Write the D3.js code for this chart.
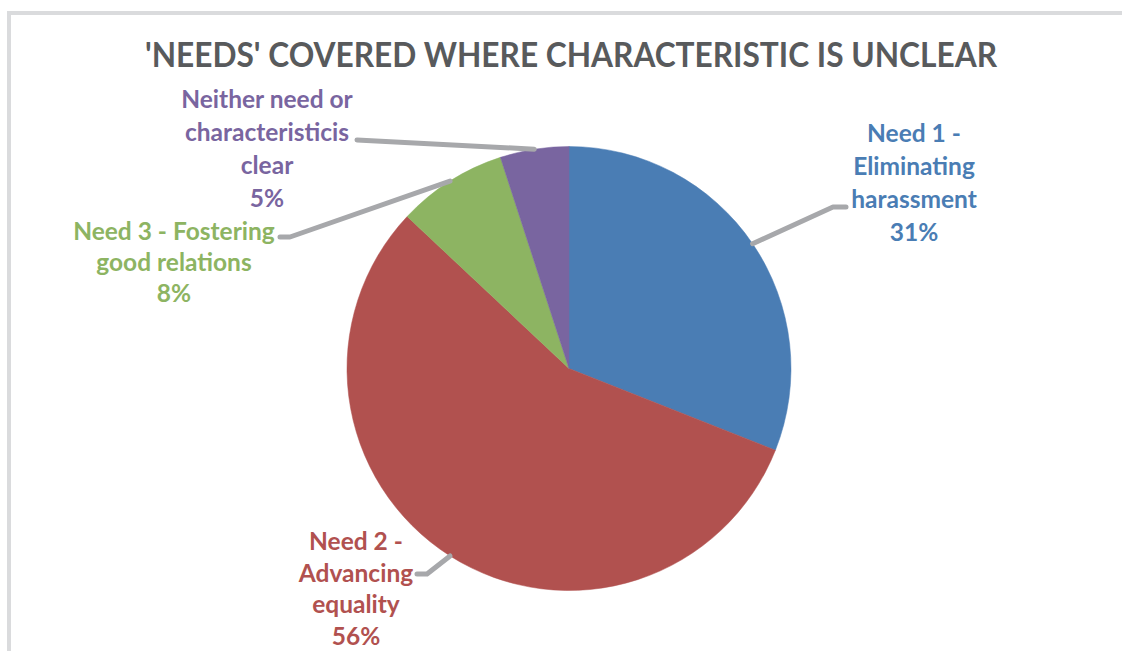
<!DOCTYPE html>
<html>
<head>
<meta charset="utf-8">
<script src="https://cdn.jsdelivr.net/npm/d3@7"></script>
<style>
  html, body { margin: 0; padding: 0; background: #ffffff; }
  svg { display: block; }
</style>
</head>
<body>
<svg id="chart" width="1122" height="651"></svg>
<script>
// Share of each equality-duty "need" where the protected characteristic is unclear
const categories = [
  "Need 1 - Eliminating harassment",
  "Need 2 - Advancing equality",
  "Need 3 - Fostering good relations",
  "Neither need or characteristicis clear"
];
const values = [31, 56, 8, 5];
const labelLines = [
  ["Need 1 -", "Eliminating", "harassment"],
  ["Need 2 -", "Advancing", "equality"],
  ["Need 3 - Fostering", "good relations"],
  ["Neither need or", "characteristicis", "clear"]
];
const colors = ["#4a7db4", "#b1514f", "#8db462", "#7965a0"];

// Label placement around the pie (pixels): text centre, first baseline, line step,
// and the leader line's elbow / end points.
const labelLayout = [
  { x: 914, y: 142, step: 33, elbow: [833, 207], end: [846, 207] },
  { x: 356, y: 550, step: 31.7, elbow: [427, 574], end: [417, 574] },
  { x: 174, y: 240, step: 31, elbow: [290, 237], end: [280, 237] },
  { x: 267, y: 108, step: 33, elbow: [357, 140], end: [357, 140] }
];

const svg = d3.select("#chart");
const W = 1122, H = 651;
const cx = 569, cy = 368.5, R = 222;

// Chart-area frame (top and left edges visible)
svg.append("path")
  .attr("d", `M9,${H} L9,13 L${W},13`)
  .attr("fill", "none")
  .attr("stroke", "#dadbdd")
  .attr("stroke-width", 4);

// Title
svg.append("text")
  .attr("x", 571)
  .attr("y", 67)
  .attr("text-anchor", "middle")
  .attr("font-family", "Lato, 'Open Sans', sans-serif")
  .attr("font-weight", "bold")
  .attr("font-size", 35)
  .attr("fill", "#585a5c")
  .attr("textLength", 852)
  .attr("lengthAdjust", "spacingAndGlyphs")
  .text("'NEEDS' COVERED WHERE CHARACTERISTIC IS UNCLEAR");

const data = categories.map((c, i) => ({ name: c, value: values[i], i }));

const pie = d3.pie().sort(null).value(d => d.value).startAngle(0).endAngle(2 * Math.PI);
const arcs = pie(data);
const arc = d3.arc().innerRadius(0).outerRadius(R);
const rim = d3.arc().innerRadius(R).outerRadius(R);

const g = svg.append("g").attr("transform", `translate(${cx},${cy})`);

g.selectAll("path.slice")
  .data(arcs)
  .enter().append("path")
  .attr("class", "slice")
  .attr("d", arc)
  .attr("fill", d => colors[d.data.i])
  .attr("stroke", d => colors[d.data.i])
  .attr("stroke-width", 0.5);

// Leader lines from the slice rim to its label
const line = d3.line();
svg.selectAll("path.leader")
  .data(arcs)
  .enter().append("path")
  .attr("class", "leader")
  .attr("d", d => {
    const c = rim.centroid(d);
    const L = labelLayout[d.data.i];
    return line([[cx + c[0], cy + c[1]], L.elbow, L.end]);
  })
  .attr("fill", "none")
  .attr("stroke", "#a7a8ab")
  .attr("stroke-width", 5)
  .attr("stroke-linecap", "round")
  .attr("stroke-linejoin", "round");

// Data labels: category name lines followed by the percentage
const total = d3.sum(values);
arcs.forEach(d => {
  const i = d.data.i;
  const L = labelLayout[i];
  const lines = labelLines[i].concat([d3.format(".0%")(d.data.value / total)]);
  const t = svg.append("text")
    .attr("text-anchor", "middle")
    .attr("font-family", "Lato, 'Open Sans', sans-serif")
    .attr("font-weight", "bold")
    .attr("font-size", 24.5)
    .attr("fill", colors[i]);
  lines.forEach((s, k) => {
    t.append("tspan")
      .attr("x", L.x)
      .attr("y", L.y + k * L.step)
      .text(s);
  });
});
</script>
</body>
</html>
